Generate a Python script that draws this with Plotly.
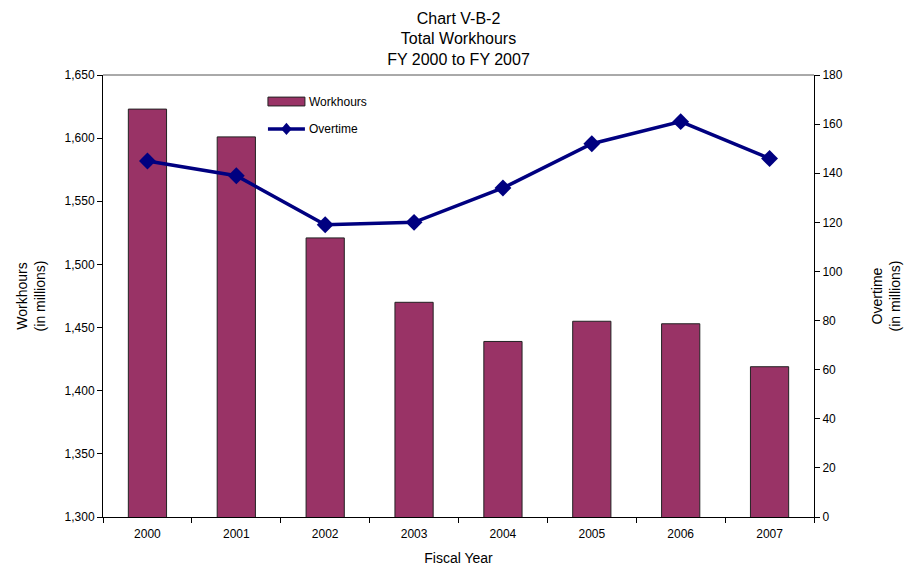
import plotly.graph_objects as go

years = ["2000", "2001", "2002", "2003", "2004", "2005", "2006", "2007"]
workhours = [1623, 1601, 1521, 1470, 1439, 1455, 1453, 1419]
overtime = [145, 139, 119, 120, 134, 152, 161, 146]

left_ticks = [1300, 1350, 1400, 1450, 1500, 1550, 1600, 1650]
left_tick_text = ["1,300", "1,350", "1,400", "1,450", "1,500", "1,550", "1,600", "1,650"]
right_ticks = [0, 20, 40, 60, 80, 100, 120, 140, 160, 180]

font_family = "Liberation Sans, Arial, sans-serif"
bar_color = "#993366"
line_color = "#000080"

fig = go.Figure()
fig.add_trace(go.Bar(
    x=years, y=workhours, name="Workhours",
    marker=dict(color=bar_color, line=dict(color="#222222", width=1)),
    yaxis="y", showlegend=False,
))
fig.add_trace(go.Scatter(
    x=years, y=overtime, name="Overtime", mode="lines+markers",
    line=dict(color=line_color, width=3.5),
    marker=dict(symbol="diamond", size=13, color=line_color),
    yaxis="y2", showlegend=False,
))

# manual legend (paper coordinates)
lx0, lx1 = 0.232, 0.284
dx, dy = 0.0075, 0.014
ly_line = 0.878
lxm = (lx0 + lx1) / 2
shapes = [
    dict(type="line", xref="paper", yref="paper", x0=0, x1=1, y0=1, y1=1,
         line=dict(color="#555555", width=1)),
    dict(type="rect", xref="paper", yref="paper", x0=lx0, x1=lx1, y0=0.930, y1=0.950,
         fillcolor=bar_color, line=dict(color="#222222", width=1)),
    dict(type="line", xref="paper", yref="paper", x0=lx0, x1=lx1, y0=ly_line, y1=ly_line,
         line=dict(color=line_color, width=3.5)),
    dict(type="path", xref="paper", yref="paper",
         path=f"M {lxm - dx} {ly_line} L {lxm} {ly_line + dy} L {lxm + dx} {ly_line} L {lxm} {ly_line - dy} Z",
         fillcolor=line_color, line=dict(color=line_color, width=0)),
]
annotations = [
    dict(text="Workhours", xref="paper", yref="paper", x=0.287, y=0.940,
         xanchor="left", yanchor="middle", showarrow=False, font=dict(size=12)),
    dict(text="Overtime", xref="paper", yref="paper", x=0.287, y=ly_line,
         xanchor="left", yanchor="middle", showarrow=False, font=dict(size=12)),
]

fig.update_layout(
    width=906, height=562,
    paper_bgcolor="white", plot_bgcolor="white",
    margin=dict(l=95, r=100, t=67, b=53),
    font=dict(family=font_family, size=12, color="black"),
    title=dict(
        text="Chart V-B-2<br>Total Workhours<br>FY 2000 to FY 2007",
        xref="paper", x=0.5, xanchor="center",
        yref="container", y=0.9724, yanchor="top",
        font=dict(size=16, family=font_family, color="black"),
    ),
    bargap=0.57,
    showlegend=False,
    xaxis=dict(
        type="category", automargin=False,
        showline=True, linecolor="black", linewidth=1,
        ticks="outside", tickson="boundaries", ticklen=5, tickcolor="black",
        ticklabelstandoff=6,
        showgrid=False, mirror=False,
        title=dict(text="Fiscal Year", font=dict(size=14), standoff=12),
        tickfont=dict(size=12),
    ),
    yaxis=dict(
        range=[1300, 1650], tickvals=left_ticks, ticktext=left_tick_text,
        automargin=False,
        showline=True, linecolor="black", linewidth=1,
        ticks="outside", ticklen=5, tickcolor="black",
        showgrid=False, zeroline=False,
        title=dict(text="Workhours<br>(in millions)", font=dict(size=14), standoff=15),
    ),
    yaxis2=dict(
        overlaying="y", side="right",
        range=[0, 180], tickvals=right_ticks,
        automargin=False,
        showline=True, linecolor="black", linewidth=1,
        ticks="outside", ticklen=5, tickcolor="black",
        showgrid=False, zeroline=False,
        title=dict(text="Overtime<br>(in millions)", font=dict(size=14), standoff=30),
    ),
    shapes=shapes,
    annotations=annotations,
)

fig.write_html("out.html")
